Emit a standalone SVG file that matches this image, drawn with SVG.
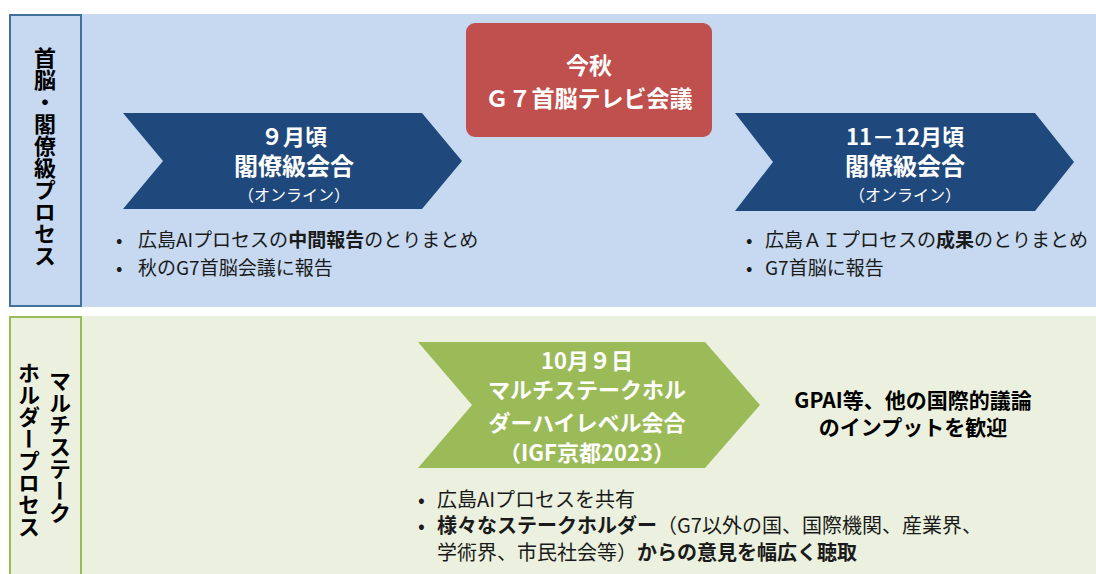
<svg xmlns="http://www.w3.org/2000/svg" width="1096" height="574" viewBox="0 0 1096 574">
<style>
text{font-family:"Noto Sans CJK JP","Noto Sans",sans-serif;}
.w{fill:#fff;font-weight:bold;text-anchor:middle;}
.wn{fill:#fff;text-anchor:middle;font-size:16px;}
.lbl{fill:#000;font-weight:bold;font-size:22px;writing-mode:vertical-rl;text-anchor:middle;}
.b{fill:#1a1a1a;font-size:19px;}
.b2{fill:#1a1a1a;font-size:20px;}
.bold{font-weight:bold;}
.blk{fill:#000;font-weight:bold;font-size:21px;text-anchor:middle;}
</style>
<rect width="1096" height="574" fill="#fff"/>
<g id="panel-top">
<rect x="9" y="14" width="1087" height="293" fill="#C6D9F1"/>
<rect x="10" y="15" width="71" height="291" fill="none" stroke="#41719C" stroke-width="2"/>
<text class="lbl" x="45" y="157">首脳・閣僚級プロセス</text>
</g>
<g id="panel-bottom">
<rect x="9" y="316" width="1087" height="258" fill="#EBF1DE"/>
<path d="M10 580 V317 H81 V580" fill="none" stroke="#9BBB59" stroke-width="2"/>
<text class="lbl" x="60" y="447">マルチステーク</text>
<text class="lbl" x="29" y="450">ホルダープロセス</text>
</g>
<g id="node-sept">
<polygon points="123,113 422,113 462,161 422,209 123,209 163,161" fill="#1F497D"/>
<text class="w" x="294" y="145" font-size="22">９月頃</text>
<text class="w" x="294" y="175" font-size="24">閣僚級会合</text>
<text class="wn" x="294" y="201">（オンライン）</text>
<text class="b" x="116" y="247">•<tspan x="138">広島AIプロセスの</tspan><tspan class="bold">中間報告</tspan>のとりまとめ</text>
<text class="b" x="116" y="275">•<tspan x="138">秋のG7首脳会議に報告</tspan></text>
</g>
<g id="node-g7">
<rect x="466" y="23" width="246" height="114" rx="9" fill="#C0504D"/>
<text class="w" x="589" y="74" font-size="23">今秋</text>
<text class="w" x="589" y="107" font-size="23">Ｇ７首脳テレビ会議</text>
</g>
<g id="node-nov">
<polygon points="735,113 1035,113 1074,162 1035,211 735,211 773,162" fill="#1F497D"/>
<text class="w" x="905" y="145" font-size="22">11－12月頃</text>
<text class="w" x="905" y="175" font-size="24">閣僚級会合</text>
<text class="wn" x="905" y="201">（オンライン）</text>
<text class="b" x="746" y="247">•<tspan x="765">広島ＡＩプロセスの</tspan><tspan class="bold">成果</tspan>のとりまとめ</text>
<text class="b" x="746" y="275">•<tspan x="765">G7首脳に報告</tspan></text>
</g>
<g id="node-igf">
<polygon points="418,342 705,342 760,405 705,468 418,468 472,405" fill="#9BBB59"/>
<text class="w" x="587" y="369" font-size="22">10月９日</text>
<text class="w" x="587" y="398" font-size="22">マルチステークホル</text>
<text class="w" x="587" y="431" font-size="22">ダーハイレベル会合</text>
<text class="w" x="587" y="461" font-size="22">（IGF京都2023）</text>
<text class="b2" x="418" y="507">•<tspan x="437">広島AIプロセスを共有</tspan></text>
<text class="b2" x="418" y="533">•<tspan x="437" class="bold">様々なステークホルダー</tspan>（G7以外の国、国際機関、産業界、</text>
<text class="b2" x="437" y="560">学術界、市民社会等）<tspan class="bold">からの意見を幅広く聴取</tspan></text>
</g>
<g id="node-gpai">
<text class="blk" x="913" y="408">GPAI等、他の国際的議論</text>
<text class="blk" x="913" y="435">のインプットを歓迎</text>
</g>
<g id="connectors"></g>
</svg>
